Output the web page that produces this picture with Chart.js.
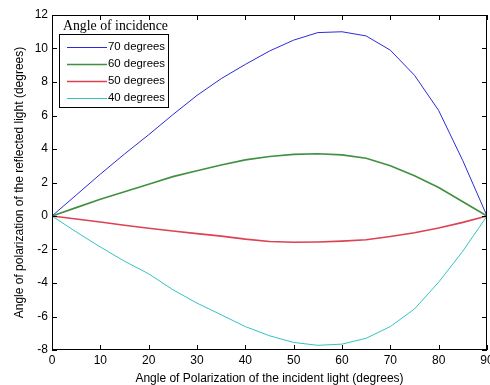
<!DOCTYPE html>
<html>
<head>
<meta charset="utf-8">
<script src="https://cdn.jsdelivr.net/npm/chart.js@4/dist/chart.umd.min.js"></script>
<style>
html,body{margin:0;padding:0;background:#fff;}
#wrap{width:490px;height:385px;position:relative;}
</style>
</head>
<body>
<div id="wrap"><canvas id="c" width="490" height="385"></canvas></div>
<script>
const xValues = [0,5,10,15,20,25,30,35,40,45,50,55,60,65,70,75,80,85,90];
const deg70 = [0,1.25,2.5,3.7,4.85,6.05,7.2,8.2,9.05,9.85,10.5,10.95,11.0,10.75,9.9,8.4,6.3,3.3,0];
const deg60 = [0,0.5,1.0,1.45,1.9,2.35,2.7,3.05,3.35,3.55,3.68,3.72,3.65,3.45,3.0,2.4,1.7,0.85,0];
const deg50 = [0,-0.18,-0.36,-0.55,-0.73,-0.9,-1.05,-1.2,-1.38,-1.52,-1.57,-1.55,-1.5,-1.42,-1.22,-1.0,-0.72,-0.38,0];
const deg40 = [0,-0.95,-1.85,-2.7,-3.45,-4.4,-5.2,-5.9,-6.6,-7.15,-7.55,-7.72,-7.65,-7.3,-6.6,-5.55,-3.95,-2.1,0];
const seriesLabels = ['70 degrees','60 degrees','50 degrees','40 degrees'];
const legendTitle = 'Angle of incidence';
const xTitle = 'Angle of Polarization of the incident light (degrees)';
const yTitle = 'Angle of polarization of the reflected light (degrees)';

const colors = ['#2b2bd6','#3f913f','#dc4252','#35c2c2'];
const widths = [1,1.6,1.6,1];
const allSeries = [deg70,deg60,deg50,deg40];

const datasets = allSeries.map((s,i)=>({
  label: seriesLabels[i],
  data: xValues.map((x,j)=>({x:x,y:s[j]})),
  borderColor: colors[i],
  backgroundColor: colors[i],
  borderWidth: widths[i],
  pointRadius: 0,
  tension: 0,
  fill: false
}));

const frame = {
  id:'frame',
  afterDatasetsDraw(chart){
    const ctx = chart.ctx, a = chart.chartArea;
    const xs = chart.scales.x, ys = chart.scales.y;
    ctx.save();
    ctx.strokeStyle = '#000';
    ctx.lineWidth = 1;
    ctx.strokeRect(Math.round(a.left)+0.5, Math.round(a.top)+0.5, Math.round(a.right-a.left)-1, Math.round(a.bottom-a.top)-1);
    const L = 5;
    ctx.beginPath();
    xs.ticks.forEach(t=>{
      const px = Math.round(xs.getPixelForValue(t.value))+0.5;
      ctx.moveTo(px,a.bottom); ctx.lineTo(px,a.bottom-L);
      ctx.moveTo(px,a.top); ctx.lineTo(px,a.top+L);
    });
    ys.ticks.forEach(t=>{
      const py = Math.round(ys.getPixelForValue(t.value))+0.5;
      ctx.moveTo(a.left,py); ctx.lineTo(a.left+L,py);
      ctx.moveTo(a.right,py); ctx.lineTo(a.right-L,py);
    });
    ctx.stroke();
    // legend
    const bx = 59.5, by = 34.5, bw = 109, bh = 73;
    ctx.fillStyle = '#fff';
    ctx.fillRect(bx,by,bw,bh);
    ctx.strokeRect(bx,by,bw,bh);
    ctx.fillStyle = '#000';
    ctx.font = '13.8px "Liberation Serif", "Times New Roman", serif';
    ctx.textBaseline = 'middle';
    ctx.textAlign = 'left';
    ctx.fillText(legendTitle, 63, 26);
    ctx.font = '11.4px "Liberation Sans", Arial, sans-serif';
    chart.data.datasets.forEach((d,i)=>{
      const y = 47 + i*17;
      ctx.strokeStyle = d.borderColor;
      ctx.lineWidth = d.borderWidth;
      ctx.beginPath();
      ctx.moveTo(67,y+0.5); ctx.lineTo(107,y+0.5);
      ctx.stroke();
      ctx.fillStyle = '#000';
      ctx.fillText(d.label, 108, y);
    });
    ctx.restore();
  }
};

Chart.defaults.font.family = '"Liberation Sans", Arial, sans-serif';
Chart.defaults.color = '#000';

new Chart(document.getElementById('c'), {
  type: 'line',
  data: { datasets },
  options: {
    responsive: false,
    animation: false,
    layout: { padding: { top: 15, right: 3, left: 0, bottom: 0 } },
    plugins: { legend: { display: false }, tooltip: { enabled: false } },
    scales: {
      x: {
        type: 'linear', min: 0, max: 90,
        ticks: { stepSize: 10, font: { size: 12 }, padding: 3, maxRotation: 0, autoSkip: false },
        grid: { display: false, drawTicks: false },
        border: { display: false },
        title: { display: true, text: xTitle, font: { size: 12 }, padding: { top: 0, bottom: -1 } },
        afterFit(s){ s.height = 35; s.paddingLeft = 0; s.paddingRight = 0; }
      },
      y: {
        type: 'linear', min: -8, max: 12,
        ticks: { stepSize: 2, font: { size: 12 }, padding: 4 },
        grid: { display: false, drawTicks: false },
        border: { display: false },
        title: { display: true, text: yTitle, font: { size: 12 }, padding: { top: 12, bottom: 0 } },
        afterFit(s){ s.width = 52; s.paddingTop = 0; s.paddingBottom = 0; }
      }
    }
  },
  plugins: [frame]
});
</script>
</body>
</html>
